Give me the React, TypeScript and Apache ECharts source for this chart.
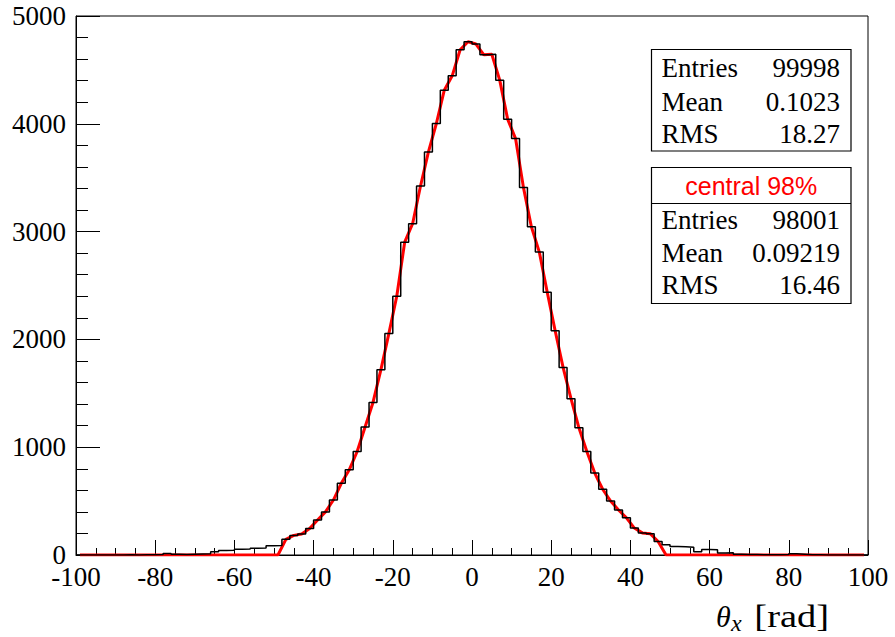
import React, { useEffect, useRef } from "react";
import * as echarts from "echarts";

// Histogram: 100 bins of width 2 from -100 to 100 (counts)
const binLow = -100;
const binWidth = 2;
const histCounts: number[] = [
  0, 0, 0, 0, 1, 0, 2, 1, 3, 2,
  4, 15, 6, 5, 8, 10, 12, 30, 42, 45,
  53, 55, 62, 65, 86, 88, 145, 182, 195, 245,
  325, 400, 510, 665, 790, 960, 1187, 1415, 1719, 2054,
  2400, 2902, 3073, 3423, 3739, 4003, 4312, 4445, 4687, 4761,
  4740, 4640, 4645, 4405, 4043, 3863, 3408, 3045, 2810, 2438,
  2080, 1740, 1450, 1180, 960, 760, 610, 500, 418, 345,
  250, 205, 198, 125, 95, 78, 76, 72, 30, 52,
  48, 18, 22, 8, 5, 4, 3, 2, 2, 4,
  12, 8, 3, 2, 1, 0, 0, 0, 0, 0,
];
// central 98% range (red curve)
const centralLow = -48;
const centralHigh = 48;

const xTicks = [-100, -80, -60, -40, -20, 0, 20, 40, 60, 80, 100];
const yTicks = [0, 1000, 2000, 3000, 4000, 5000];

const statLabels = ["Entries", "Mean", "RMS"];
const statsAll = ["99998", "0.1023", "18.27"];
const statsCentralTitle = "central 98%";
const statsCentral = ["98001", "0.09219", "16.46"];

const SERIF = "Liberation Serif";

export default function App() {
  const ref = useRef<HTMLDivElement>(null);
  useEffect(() => {
    if (!ref.current) return;
    const chart = echarts.init(ref.current, undefined, { renderer: "svg" });

    const stepData: number[][] = histCounts.map((v, i) => [binLow + i * binWidth, v]);
    stepData.push([binLow + histCounts.length * binWidth, histCounts[histCounts.length - 1]]);

    const redData: number[][] = histCounts.map((v, i) => {
      const lo = binLow + i * binWidth;
      const c = lo + binWidth / 2;
      const inside = lo >= centralLow && lo + binWidth <= centralHigh;
      return [c, inside ? v : 0];
    });

    const boxL = 651.5;
    const boxR = 851;
    const textL = 661.5;
    const textR = 840;
    const fontRow = `27px ${SERIF}`;

    const rowTexts = (ys: number[], vals: string[]) => {
      const out: any[] = [];
      ys.forEach((y, i) => {
        out.push({
          type: "text",
          x: textL,
          y,
          z: 101,
          style: { text: statLabels[i], font: fontRow, fill: "#000", textAlign: "left", textVerticalAlign: "middle" },
        });
        out.push({
          type: "text",
          x: textR,
          y,
          z: 101,
          style: { text: vals[i], font: fontRow, fill: "#000", textAlign: "right", textVerticalAlign: "middle" },
        });
      });
      return out;
    };

    const graphic: any[] = [
      {
        type: "rect",
        z: 100,
        shape: { x: boxL, y: 49.5, width: boxR - boxL, height: 101.5 },
        style: { fill: "#fff", stroke: "#000", lineWidth: 1.2 },
      },
      ...rowTexts([67.5, 101.5, 133.5], statsAll),
      {
        type: "rect",
        z: 100,
        shape: { x: boxL, y: 167.5, width: boxR - boxL, height: 136 },
        style: { fill: "#fff", stroke: "#000", lineWidth: 1.2 },
      },
      {
        type: "line",
        z: 101,
        shape: { x1: boxL, y1: 203.5, x2: boxR, y2: 203.5 },
        style: { stroke: "#000", lineWidth: 1.2 },
      },
      {
        type: "text",
        x: (boxL + boxR) / 2,
        y: 186,
        z: 101,
        style: {
          text: statsCentralTitle,
          font: "25px Liberation Sans",
          fill: "#ff0000",
          textAlign: "center",
          textVerticalAlign: "middle",
        },
      },
      ...rowTexts([220, 253, 285], statsCentral),
      // axis title
      {
        type: "text",
        x: 716,
        y: 616,
        z: 101,
        style: { text: "θ", font: `italic 30px ${SERIF}`, fill: "#000", textAlign: "left", textVerticalAlign: "middle" },
      },
      {
        type: "text",
        x: 731,
        y: 623,
        z: 101,
        style: { text: "x", font: `italic 24px ${SERIF}`, fill: "#000", textAlign: "left", textVerticalAlign: "middle" },
      },
      {
        type: "text",
        x: 829,
        y: 617,
        z: 101,
        scaleX: 1.24,
        style: { text: "[rad]", font: `31px ${SERIF}`, fill: "#000", textAlign: "right", textVerticalAlign: "middle" },
      },
    ];

    chart.setOption({
      animation: false,
      backgroundColor: "#fff",
      textStyle: { fontFamily: SERIF, color: "#000" },
      grid: {
        left: 76,
        right: 895 - 868,
        top: 16,
        bottom: 637 - 555,
        show: true,
        borderColor: "#000",
        borderWidth: 1,
        backgroundColor: "transparent",
      },
      xAxis: {
        type: "value",
        min: xTicks[0],
        max: xTicks[xTicks.length - 1],
        interval: xTicks[1] - xTicks[0],
        axisLine: { show: true, onZero: false, lineStyle: { color: "#000", width: 1 } },
        axisTick: { show: true, inside: true, length: 15, lineStyle: { color: "#000", width: 1 } },
        minorTick: { show: true, splitNumber: 4, length: 7, lineStyle: { color: "#000", width: 1 } },
        splitLine: { show: false },
        axisLabel: {
          color: "#000",
          fontFamily: SERIF,
          fontSize: 27,
          margin: 8,
          formatter: (v: number) => String(v),
        },
      },
      yAxis: {
        type: "value",
        min: yTicks[0],
        max: yTicks[yTicks.length - 1],
        interval: yTicks[1] - yTicks[0],
        axisLine: { show: true, onZero: false, lineStyle: { color: "#000", width: 1 } },
        axisTick: { show: true, inside: true, length: 24, lineStyle: { color: "#000", width: 1 } },
        minorTick: { show: true, splitNumber: 5, length: 12, lineStyle: { color: "#000", width: 1 } },
        splitLine: { show: false },
        axisLabel: {
          color: "#000",
          fontFamily: SERIF,
          fontSize: 27,
          margin: 10,
          formatter: (v: number) => String(v),
        },
      },
      graphic,
      series: [
        {
          type: "line",
          name: "central 98%",
          data: redData,
          symbol: "none",
          z: 2,
          lineStyle: { color: "#ff0000", width: 3 },
          silent: true,
        },
        {
          type: "line",
          name: "all",
          data: stepData,
          step: "end",
          symbol: "none",
          z: 3,
          lineStyle: { color: "#000", width: 1.5 },
          silent: true,
        },
      ],
    });
    return () => chart.dispose();
  }, []);
  return (
    <div
      ref={ref}
      style={{ position: "absolute", left: 0, top: 0, width: 895, height: 637, background: "#fff" }}
    />
  );
}
